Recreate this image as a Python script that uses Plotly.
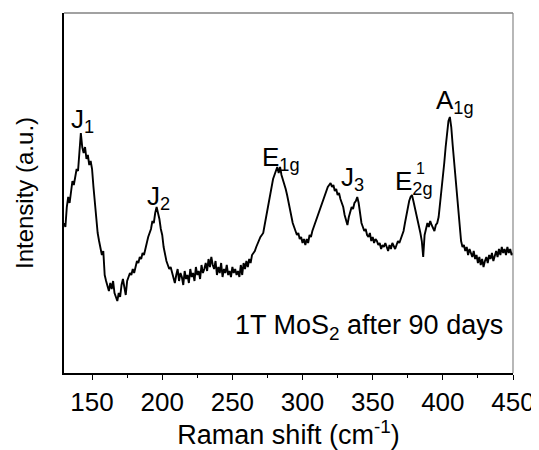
import plotly.graph_objects as go

# Raman spectrum of 1T MoS2 after 90 days (arbitrary intensity units), 1 cm-1 steps
raman_shift = list(range(130, 451))
intensity = [
    150, 146, 166, 176, 170, 184, 192, 188, 198, 204,   # 130-139
    202, 222, 240, 226, 220, 226, 214, 218, 208, 212,   # 140-149
    204, 186, 170, 152, 140, 132, 126, 118, 122, 98,    # 150-159
    92, 88, 82, 90, 84, 92, 80, 76, 72, 80,             # 160-169
    76, 88, 94, 86, 78, 92, 96, 100, 98, 104,           # 170-179
    100, 108, 112, 110, 116, 114, 120, 118, 126, 130,   # 180-189
    136, 140, 144, 152, 150, 160, 166, 160, 154, 144,   # 190-199
    138, 126, 118, 112, 108, 104, 106, 100, 94, 90,     # 200-209
    98, 104, 92, 100, 96, 88, 102, 94, 98, 90,          # 210-219
    104, 96, 100, 92, 106, 98, 102, 94, 108, 100,       # 220-229
    104, 110, 102, 114, 106, 116, 108, 104, 112, 98,    # 230-239
    106, 100, 110, 96, 104, 100, 108, 98, 102, 96,      # 240-249
    106, 100, 104, 98, 102, 96, 108, 98, 110, 104,      # 250-259
    112, 106, 114, 110, 118, 120, 122, 126, 130, 134,   # 260-269
    136, 138, 140, 148, 156, 162, 172, 180, 190, 194,   # 270-279
    198, 202, 206, 200, 206, 198, 194, 188, 184, 178,   # 280-289
    170, 164, 156, 150, 146, 142, 138, 140, 134, 136,   # 290-299
    130, 134, 128, 134, 130, 138, 136, 142, 146, 152,   # 300-309
    156, 160, 164, 168, 172, 174, 178, 182, 186, 188,   # 310-319
    190, 186, 188, 182, 184, 178, 180, 174, 170, 166,   # 320-329
    158, 152, 148, 156, 160, 166, 164, 170, 172, 176,   # 330-339
    170, 160, 150, 146, 142, 144, 138, 136, 140, 132,   # 340-349
    136, 130, 134, 132, 128, 130, 124, 128, 126, 130,   # 350-359
    126, 122, 128, 124, 130, 126, 124, 128, 132, 130,   # 360-369
    134, 136, 142, 150, 158, 166, 172, 176, 178, 172,   # 370-379
    166, 160, 154, 146, 140, 132, 116, 138, 144, 150,   # 380-389
    146, 152, 148, 144, 142, 148, 150, 156, 168, 182,   # 390-399
    196, 210, 226, 240, 252, 256, 246, 228, 212, 192,   # 400-409
    172, 156, 144, 132, 126, 128, 122, 126, 118, 124,   # 410-419
    120, 116, 122, 114, 118, 110, 116, 108, 114, 106,   # 420-429
    112, 116, 110, 118, 114, 120, 112, 118, 122, 116,   # 430-439
    124, 118, 126, 120, 124, 118, 126, 120, 124, 118,   # 440-449
    120,                                                # 450
]

peak_labels = ["J<sub>1</sub>", "J<sub>2</sub>", "E<sub>1g</sub>", "J<sub>3</sub>",
               "E<sub>2g</sub>", "A<sub>1g</sub>"]
peak_x = [143.5, 197.5, 285.0, 335.5, 379.5, 408.5]
peak_y = [253, 176, 215, 195, 191, 272]

x_ticks = [150, 200, 250, 300, 350, 400, 450]
x_minor = [175, 225, 275, 325, 375, 425]

FONT = "Arial, 'Liberation Sans', sans-serif"

fig = go.Figure()
fig.add_trace(go.Scatter(x=raman_shift, y=intensity, mode="lines",
                         line=dict(color="black", width=1.9), showlegend=False))

for lab, xx, yy in zip(peak_labels, peak_x, peak_y):
    fig.add_annotation(x=xx, y=yy, text=lab, showarrow=False, borderpad=0,
                       font=dict(family=FONT, size=26, color="black"))
# superscript "1" of E_2g^1
fig.add_annotation(x=384.3, y=205, text="1", showarrow=False, borderpad=0,
                   font=dict(family=FONT, size=16, color="black"))

fig.add_annotation(x=1, y=46, xref="x domain", yref="y", xanchor="right",
                   xshift=-8, text="1T MoS<sub>2</sub> after 90 days", showarrow=False,
                   font=dict(family=FONT, size=27, color="black"))

# gray top/right frame
fig.add_shape(type="line", xref="paper", yref="paper", x0=0, x1=1, y0=1, y1=1,
              line=dict(color="#444444", width=1.2))
fig.add_shape(type="line", xref="paper", yref="paper", x0=1, x1=1, y0=0, y1=1,
              line=dict(color="#888888", width=1.2))

fig.update_layout(
    width=531, height=442,
    margin=dict(l=56, r=26, t=5, b=77),
    plot_bgcolor="white", paper_bgcolor="white",
    font=dict(family=FONT, size=24, color="black"),
    xaxis=dict(range=[130, 450], tickvals=x_ticks, ticks="outside", ticklen=5,
               tickwidth=1.2, tickcolor="black", showline=True, linecolor="black",
               linewidth=1.5, showgrid=False, zeroline=False, automargin=False,
               tickfont=dict(size=26),
               minor=dict(tickvals=x_minor, ticks="outside",
                          ticklen=3, tickcolor="black", tickwidth=1),
               title=dict(text="Raman shift (cm<sup>-1</sup>)", font=dict(size=27),
                          standoff=13)),
    yaxis=dict(range=[0, 360], showticklabels=False, ticks="", showline=True,
               linecolor="black", linewidth=1.5, showgrid=False, zeroline=False,
               automargin=False,
               title=dict(text="Intensity (a.u.)", font=dict(size=24), standoff=22)),
)

fig.write_html("out.html")
